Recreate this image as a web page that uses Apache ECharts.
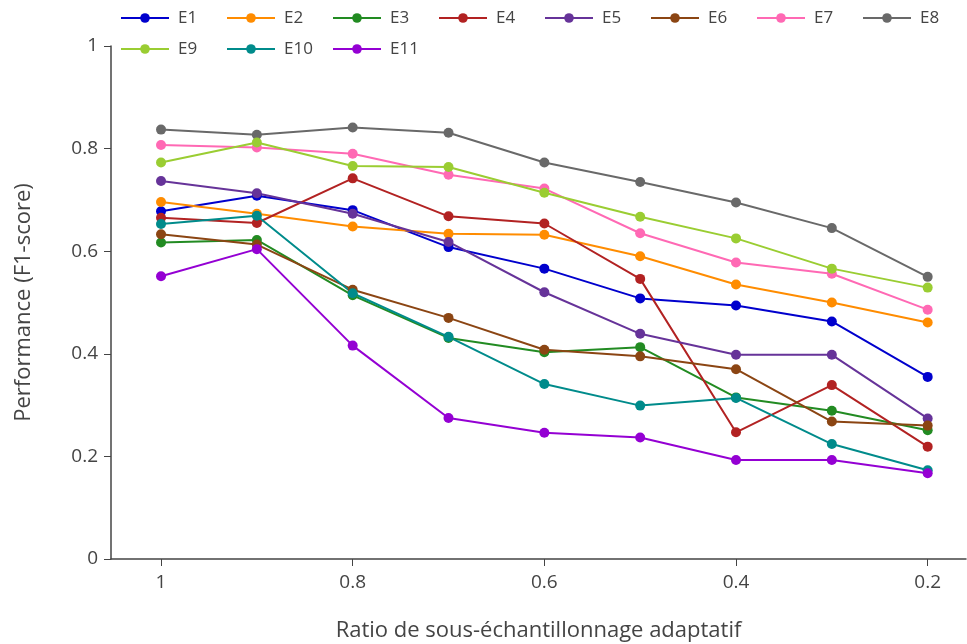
<!DOCTYPE html>
<html>
<head>
<meta charset="utf-8">
<script src="https://cdn.jsdelivr.net/npm/echarts@6/dist/echarts.min.js"></script>
<style>
html,body{margin:0;padding:0;background:#fff;}
#chart{width:967px;height:644px;}
</style>
</head>
<body>
<div id="chart"></div>
<script>
const ratios = [1, 0.9, 0.8, 0.7, 0.6, 0.5, 0.4, 0.3, 0.2];
const xTicks = [1, 0.8, 0.6, 0.4, 0.2];
const seriesNames = ['E1','E2','E3','E4','E5','E6','E7','E8','E9','E10','E11'];
const E1 = [0.678,0.708,0.680,0.608,0.566,0.508,0.494,0.463,0.355];
const E2 = [0.696,0.673,0.648,0.634,0.632,0.590,0.535,0.500,0.461];
const E3 = [0.617,0.622,0.514,0.431,0.403,0.413,0.315,0.289,0.251];
const E4 = [0.665,0.655,0.742,0.668,0.654,0.546,0.247,0.339,0.219];
const E5 = [0.737,0.713,0.673,0.618,0.520,0.439,0.398,0.398,0.274];
const E6 = [0.633,0.613,0.525,0.470,0.408,0.395,0.370,0.268,0.260];
const E7 = [0.807,0.802,0.790,0.749,0.722,0.635,0.578,0.556,0.486];
const E8 = [0.837,0.827,0.841,0.831,0.773,0.735,0.695,0.645,0.550];
const E9 = [0.773,0.812,0.766,0.764,0.714,0.667,0.625,0.566,0.529];
const E10 = [0.653,0.669,0.518,0.433,0.341,0.299,0.314,0.224,0.173];
const E11 = [0.551,0.604,0.416,0.275,0.246,0.237,0.193,0.193,0.167];
const allValues = [E1,E2,E3,E4,E5,E6,E7,E8,E9,E10,E11];
const colors = ['#0000CD','#FF8C00','#228B22','#B22222','#663399','#8B4513','#FF69B4','#696969','#9ACD32','#008B8B','#9400D3'];

const font = '"Open Sans", "Noto Sans", sans-serif';
const chart = echarts.init(document.getElementById('chart'));
const series = seriesNames.map((name, i) => ({
  name: name,
  type: 'line',
  data: ratios.map((r, j) => [r, allValues[i][j]]),
  symbol: 'circle',
  symbolSize: 10,
  lineStyle: {width: 2, color: colors[i]},
  itemStyle: {color: colors[i]},
  emphasis: {disabled: true},
  animation: false
}));

chart.setOption({
  animation: false,
  color: colors,
  textStyle: {fontFamily: font},
  legend: {
    left: 120,
    top: 5,
    padding: 0,
    width: 870,
    itemWidth: 48,
    itemHeight: 12,
    itemGap: 5,
    textStyle: {fontFamily: font, fontSize: 17, color: '#444', width: 43, lineHeight: 26, padding: [0,0,0,4]},
    data: seriesNames
  },
  grid: {left: 111, right: 1, top: 46, bottom: 85, containLabel: false, outerBoundsMode: 'none'},
  xAxis: {
    type: 'value',
    inverse: true,
    min: 0.16,
    max: 1.0522,
    name: 'Ratio de sous-échantillonnage adaptatif',
    nameLocation: 'middle',
    nameGap: 61,
    nameTextStyle: {fontFamily: font, fontSize: 22, color: '#444'},
    axisLine: {onZero: false, lineStyle: {color: '#444', width: 1.5}},
    axisTick: {show: true, length: 7, customValues: xTicks, lineStyle: {color: '#444'}},
    axisLabel: {customValues: xTicks, fontFamily: font, fontSize: 19, color: '#444', margin: 14},
    splitLine: {show: false}
  },
  yAxis: {
    type: 'value',
    min: 0,
    max: 1,
    interval: 0.2,
    name: 'Performance (F1-score)',
    nameLocation: 'middle',
    nameGap: 76,
    nameRotate: 90,
    nameTextStyle: {fontFamily: font, fontSize: 22, color: '#444'},
    axisLine: {show: true, onZero: false, lineStyle: {color: '#444', width: 1.5}},
    axisTick: {show: true, length: 7, lineStyle: {color: '#444'}},
    axisLabel: {fontFamily: font, fontSize: 19, color: '#444', margin: 13},
    splitLine: {show: false}
  },
  series: series
});
</script>
</body>
</html>
